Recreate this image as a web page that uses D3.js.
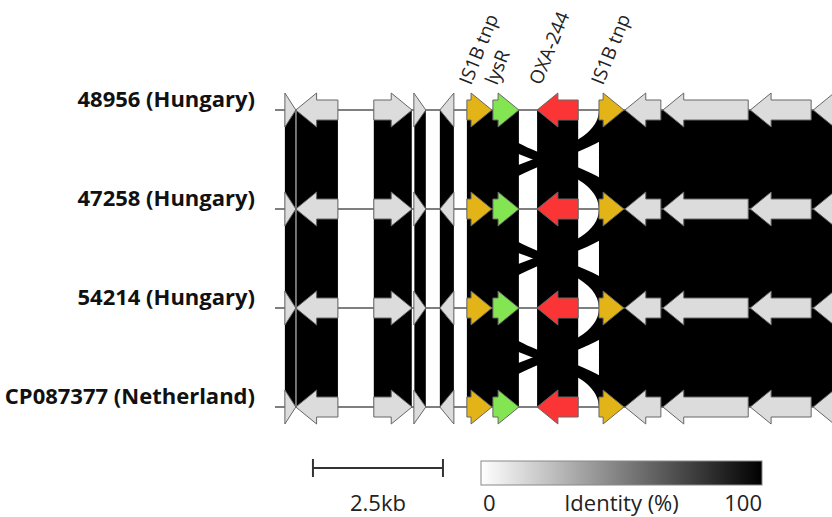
<!DOCTYPE html>
<html>
<head>
<meta charset="utf-8">
<script src="https://cdn.jsdelivr.net/npm/d3@7"></script>
<style>
  body { margin: 0; background: #fff; }
  text { font-family: "Open Sans", "DejaVu Sans", sans-serif; }
</style>
</head>
<body>
<script>
// genomes, top to bottom
const tracks = ["48956 (Hungary)", "47258 (Hungary)", "54214 (Hungary)", "CP087377 (Netherland)"];

// genes (bp), same layout in every genome
const geneStart  = [190, 400, 1900, 2670, 3170, 3690, 4190, 5040, 6230, 6730, 7460, 9140, 10350];
const geneEnd    = [400, 1210, 2635, 2900, 3440, 4170, 4690, 5830, 6710, 7420, 9100, 10310, 11600];
const geneStrand = [1, -1, 1, 1, -1, 1, 1, -1, 1, -1, -1, -1, -1];
const geneType   = ["other", "other", "other", "other", "other", "IS", "lysR", "OXA", "IS", "other", "other", "other", "other"];
const geneLabel  = ["", "", "", "", "", "IS1B tnp", "lysR", "OXA-244", "IS1B tnp", "", "", "", ""];

// blast hits between neighbouring genomes (same coords on both sides)
const linkStart    = [190, 412, 1900, 2680, 3170, 3690, 5040, 6230];
const linkEnd      = [395, 1210, 2630, 2900, 3440, 4690, 5830, 11600];
const linkIdentity = [100, 100, 100, 100, 100, 100, 100, 100];

// crossed hits (the two IS1B copies match each other)
const crossTopStart = [6230, 3690];
const crossTopEnd   = [6710, 4170];
const crossBotStart = [3690, 6230];
const crossBotEnd   = [4170, 6710];
const crossIdentity = [100, 100];

const scaleBarBp = 2500, scaleBarLabel = "2.5kb";
const identityTicks = ["0", "Identity (%)", "100"];

const width = 832, height = 517;
const headBp = 400;

const svg = d3.select("body").append("svg")
    .attr("width", width)
    .attr("height", height);

const x = d3.scaleLinear().domain([0, 10711]).range([275, 832]);
const y = d3.scalePoint().domain(tracks).range([110, 407]);
const idColor = d3.scaleLinear().domain([0, 100]).range(["#ffffff", "#000000"]);
const typeColor = { other: "#dcdcdc", IS: "#e3b418", lysR: "#84e552", OXA: "#fb3535" };

// ribbon between two tracks, curved sides
function ribbon(a1, a2, b1, b2, y1, y2) {
    const ym = (y1 + y2) / 2;
    return "M" + x(a1) + "," + y1 + "L" + x(a2) + "," + y1 +
        "C" + x(a2) + "," + ym + " " + x(b2) + "," + ym + " " + x(b2) + "," + y2 +
        "L" + x(b1) + "," + y2 +
        "C" + x(b1) + "," + ym + " " + x(a1) + "," + ym + " " + x(a1) + "," + y1 + "Z";
}

const links = svg.append("g");
for (let t = 0; t < tracks.length - 1; t++) {
    const y1 = y(tracks[t]), y2 = y(tracks[t + 1]);
    linkStart.forEach((s, i) => {
        links.append("path")
            .attr("d", ribbon(s, linkEnd[i], s, linkEnd[i], y1, y2))
            .attr("fill", idColor(linkIdentity[i]));
    });
    crossTopStart.forEach((s, i) => {
        links.append("path")
            .attr("d", ribbon(s, crossTopEnd[i], crossBotStart[i], crossBotEnd[i], y1, y2))
            .attr("fill", idColor(crossIdentity[i]));
    });
}

// backbone lines
svg.append("g").selectAll("line")
    .data(tracks)
    .enter()
    .append("line")
    .attr("x1", x(0)).attr("x2", width)
    .attr("y1", d => y(d)).attr("y2", d => y(d))
    .attr("stroke", "#555")
    .attr("stroke-width", 1.5);

// gene arrow shape
function arrow(i, cy) {
    const s = x(geneStart[i]), e = x(geneEnd[i]);
    const head = Math.min(x(headBp) - x(0), e - s);
    const hh = 17, sh = 10;
    let pts;
    if (geneStrand[i] > 0) {
        const b = e - head;
        pts = [[s, cy - sh], [b, cy - sh], [b, cy - hh], [e, cy], [b, cy + hh], [b, cy + sh], [s, cy + sh]];
        if (head >= e - s) pts = [[s, cy - hh], [e, cy], [s, cy + hh]];
    } else {
        const b = s + head;
        pts = [[e, cy - sh], [b, cy - sh], [b, cy - hh], [s, cy], [b, cy + hh], [b, cy + sh], [e, cy + sh]];
        if (head >= e - s) pts = [[e, cy - hh], [s, cy], [e, cy + hh]];
    }
    return "M" + pts.map(p => p.join(",")).join("L") + "Z";
}

const genes = svg.append("g");
tracks.forEach(tr => {
    geneStart.forEach((g, i) => {
        genes.append("path")
            .attr("d", arrow(i, y(tr)))
            .attr("fill", typeColor[geneType[i]])
            .attr("stroke", "#666")
            .attr("stroke-width", 1);
    });
});

// gene names over the top genome
geneLabel.forEach((lab, i) => {
    if (!lab) return;
    const gx = x(geneStart[i]) + 4, gy = y(tracks[0]) - 24;
    svg.append("text")
        .attr("transform", "translate(" + gx + "," + gy + ") rotate(-68)")
        .attr("font-size", 19)
        .attr("fill", "#222")
        .text(lab);
});

// genome names
svg.append("g").selectAll("text")
    .data(tracks)
    .enter()
    .append("text")
    .attr("x", 255)
    .attr("y", d => y(d) - 3)
    .attr("text-anchor", "end")
    .attr("font-size", 22)
    .attr("font-weight", "bold")
    .attr("fill", "#111")
    .text(d => d);

// scale bar
const sb0 = 730, sb1 = sb0 + scaleBarBp, sbY = 468;
const sb = svg.append("g").attr("stroke", "#333").attr("stroke-width", 2);
sb.append("line").attr("x1", x(sb0)).attr("x2", x(sb1)).attr("y1", sbY).attr("y2", sbY);
sb.append("line").attr("x1", x(sb0)).attr("x2", x(sb0)).attr("y1", sbY - 9).attr("y2", sbY + 9);
sb.append("line").attr("x1", x(sb1)).attr("x2", x(sb1)).attr("y1", sbY - 9).attr("y2", sbY + 9);
svg.append("text")
    .attr("x", (x(sb0) + x(sb1)) / 2)
    .attr("y", 511)
    .attr("text-anchor", "middle")
    .attr("font-size", 22)
    .attr("fill", "#222")
    .text(scaleBarLabel);

// identity colour key
const grad = svg.append("defs").append("linearGradient").attr("id", "idgrad");
grad.append("stop").attr("offset", "0%").attr("stop-color", idColor(0));
grad.append("stop").attr("offset", "100%").attr("stop-color", idColor(100));
const keyX = 481, keyW = 281;
svg.append("rect")
    .attr("x", keyX).attr("y", 461)
    .attr("width", keyW).attr("height", 24)
    .attr("fill", "url(#idgrad)")
    .attr("stroke", "#888");
const keyScale = d3.scalePoint().domain(identityTicks).range([keyX, keyX + keyW]);
svg.append("g").selectAll("text")
    .data(identityTicks)
    .enter()
    .append("text")
    .attr("x", (d, i) => i === 0 ? keyScale(d) + 2 : keyScale(d))
    .attr("y", 511)
    .attr("text-anchor", (d, i) => ["start", "middle", "end"][i])
    .attr("font-size", 22)
    .attr("fill", "#222")
    .text(d => d);
</script>
</body>
</html>
